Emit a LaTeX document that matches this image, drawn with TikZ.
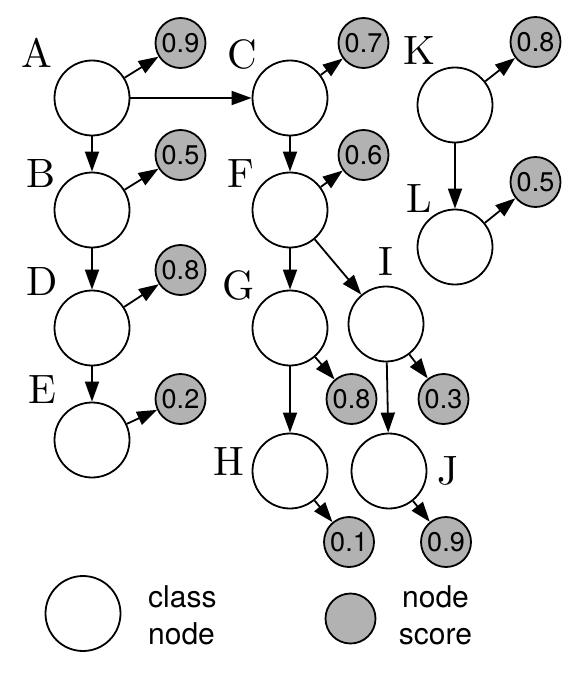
\documentclass[tikz,border=0pt]{standalone}
\usepackage{fontspec}
\newfontfamily\hv{TeX Gyre Heros}
\usetikzlibrary{arrows.meta}
\begin{document}
\begin{tikzpicture}[x=1pt,y=-1pt,
  cls/.style={circle,draw,line width=1.8pt,minimum size=75pt,inner sep=0pt,fill=white},
  scr/.style={circle,draw,line width=1.8pt,minimum size=50pt,inner sep=0pt,fill=gray!60,
    font=\hv\fontsize{27}{27}\selectfont},
  lbl/.style={anchor=base,inner sep=0pt,scale=4.1,font=\fontsize{10}{10}\selectfont},
  arr/.style={line width=1.8pt,-{Triangle[length=20pt,width=14pt]}},
  leg/.style={inner sep=0pt,font=\hv\fontsize{30}{37}\selectfont}
]
\useasboundingbox (0,0) rectangle (581,682);
% class nodes
\node[cls] (A) at (92,98) {};
\node[cls] (B) at (92,210) {};
\node[cls] (D) at (92,328) {};
\node[cls] (E) at (92,440) {};
\node[cls] (C) at (290,98) {};
\node[cls] (F) at (290,210) {};
\node[cls] (G) at (290,328) {};
\node[cls] (I) at (386,324) {};
\node[cls] (H) at (290,471) {};
\node[cls] (J) at (389,471) {};
\node[cls] (K) at (455,105) {};
\node[cls] (L) at (455,247) {};
% score nodes
\node[scr] (sA) at (180.5,43) {0.9};
\node[scr] (sB) at (180.5,155) {0.5};
\node[scr] (sD) at (180.5,270) {0.8};
\node[scr] (sE) at (180.5,399) {0.2};
\node[scr] (sC) at (363.5,43) {0.7};
\node[scr] (sF) at (363.5,155) {0.6};
\node[scr] (sK) at (535.5,42) {0.8};
\node[scr] (sL) at (535.5,182) {0.5};
\node[scr] (sG) at (351.5,399) {0.8};
\node[scr] (sI) at (443.5,399) {0.3};
\node[scr] (sH) at (349,542) {0.1};
\node[scr] (sJ) at (446,542) {0.9};
% labels
\node[lbl] (lA) at (37,68) {A};
\node[lbl] (lB) at (41,187) {B};
\node[lbl] (lD) at (42,295) {D};
\node[lbl] (lE) at (42,403) {E};
\node[lbl] (lC) at (242,69) {C};
\node[lbl] (lF) at (241,187) {F};
\node[lbl] (lG) at (239,299) {G};
\node[lbl] (lH) at (229,475) {H};
\node[lbl] (lI) at (386,275) {I};
\node[lbl] (lJ) at (448,484) {J};
\node[lbl] (lK) at (419,65) {K};
\node[lbl] (lL) at (419,212) {L};
% edges
\draw[arr] (A) -- (C);
\draw[arr] (A) -- (B);
\draw[arr] (B) -- (D);
\draw[arr] (D) -- (E);
\draw[arr] (C) -- (F);
\draw[arr] (F) -- (G);
\draw[arr] (F) -- (I);
\draw[arr] (G) -- (H);
\draw[arr] (I) -- (J);
\draw[arr] (K) -- (L);
% score edges
\draw[arr] (A) -- (sA);
\draw[arr] (B) -- (sB);
\draw[arr] (D) -- (sD);
\draw[arr] (E) -- (sE);
\draw[arr] (C) -- (sC);
\draw[arr] (F) -- (sF);
\draw[arr] (K) -- (sK);
\draw[arr] (L) -- (sL);
\draw[arr] (G) -- (sG);
\draw[arr] (I) -- (sI);
\draw[arr] (H) -- (sH);
\draw[arr] (J) -- (sJ);
% legend
\node[cls] (legC) at (83,613.5) {};
\node[leg,anchor=west,align=left] (legCt) at (148,615.5) {class\\node};
\node[scr] (legS) at (350.5,618.5) {};
\node[leg,align=center] (legSt) at (435.5,615.5) {node\\score};
\end{tikzpicture}
\end{document}
